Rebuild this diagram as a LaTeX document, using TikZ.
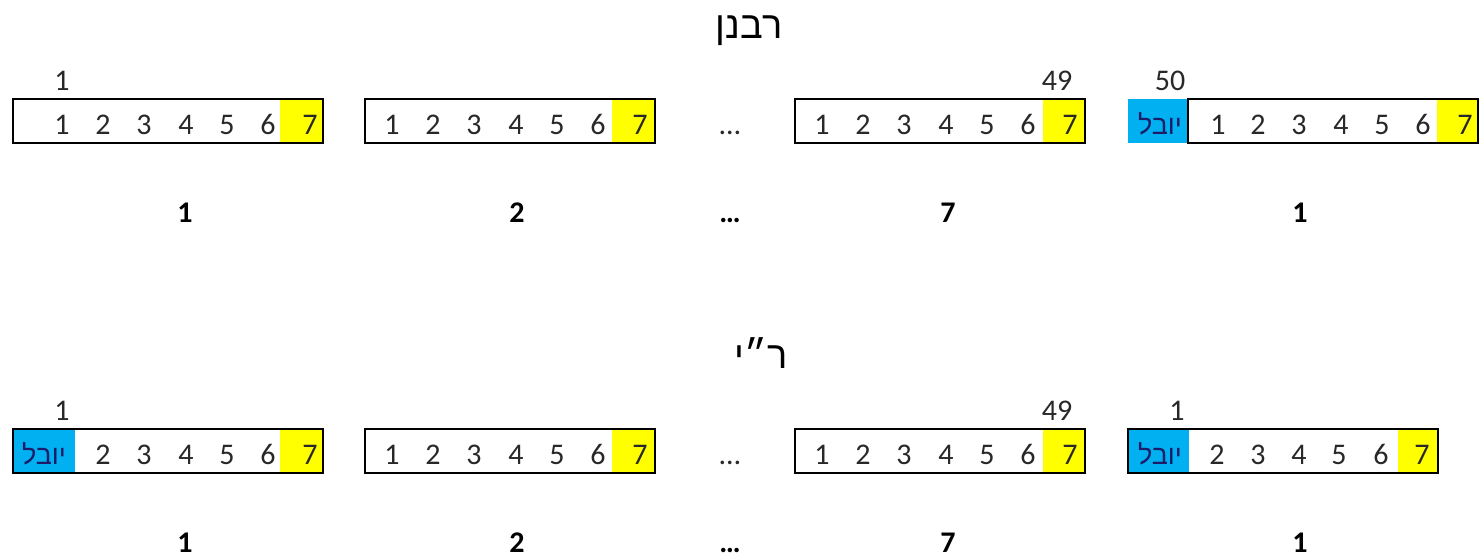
\documentclass[tikz,border=0pt]{standalone}
\usepackage{fontspec}
\setmainfont{Carlito}
\newfontfamily\hebfont[Script=Hebrew]{Liberation Sans}
\TeXXeTstate=1
\definecolor{cellyellow}{RGB}{255,255,0}
\definecolor{cellblue}{RGB}{0,176,240}
\definecolor{txt}{RGB}{40,40,40}
\begin{document}
\begin{tikzpicture}[x=1pt,y=-1pt,
  digit/.style={inner sep=0pt,anchor=base,text=txt,font=\fontsize{30}{30}\selectfont},
  bolddigit/.style={inner sep=0pt,anchor=base,text=black,font=\fontsize{30}{30}\selectfont\bfseries},
  title/.style={inner sep=0pt,anchor=base,text=black,font=\hebfont\fontsize{38}{38}\selectfont},
  yovel/.style={inner sep=0pt,anchor=base,text=txt!70!blue,font=\hebfont\fontsize{27}{27}\selectfont},
  frame/.style={draw=black,line width=1.6pt},
  ycell/.style={fill=cellyellow},
  bcell/.style={fill=cellblue}]
\useasboundingbox (0,0) rectangle (1479,557);

% ---------- titles ----------
\node[title] (t1) at (749,38) {\beginR רבנן\endR};
\node[title] (t2) at (761,368) {\beginR ר״י\endR};

% ---------- row 1 ----------
\foreach \L/\R/\row [count=\i] in {13/323/1,365/655/1,795/1085/1}{}
% box 1
\fill[ycell] (280,99) rectangle (323,143);
\draw[frame] (13,99) rectangle (323,143);
\foreach \d/\x in {1/62,2/103,3/144,4/186,5/227,6/268,7/310}
  \node[digit] (a1\d) at (\x,134) {\d};
\node[digit] (a1top) at (62,90) {1};
% box 2
\fill[ycell] (612,99) rectangle (655,143);
\draw[frame] (365,99) rectangle (655,143);
\foreach \d/\x in {1/392,2/433,3/474,4/516,5/557,6/598,7/640}
  \node[digit] (a2\d) at (\x,134) {\d};
% dots
\node[digit] (adots) at (730,134) {\dots};
% box 3
\fill[ycell] (1043,99) rectangle (1085,143);
\draw[frame] (795,99) rectangle (1085,143);
\foreach \d/\x in {1/822,2/863,3/904,4/946,5/987,6/1028,7/1070}
  \node[digit] (a3\d) at (\x,134) {\d};
\node[digit] (a3top) at (1057,90) {49};
% box 4
\fill[bcell] (1128,99) rectangle (1188,143);
\node[yovel] (a4y) at (1160,134) {\beginR יובל\endR};
\fill[ycell] (1437,99) rectangle (1478,143);
\draw[frame] (1188,99) rectangle (1478,143);
\foreach \d/\x in {1/1218,2/1258,3/1299,4/1341,5/1382,6/1423,7/1465}
  \node[digit] (a4\d) at (\x,134) {\d};
\node[digit] (a4top) at (1170,90) {50};
% bold labels
\node[bolddigit] (al1) at (185,222) {1};
\node[bolddigit] (al2) at (517,222) {2};
\node[bolddigit] (al3) at (730,222) {\dots};
\node[bolddigit] (al4) at (948,222) {7};
\node[bolddigit] (al5) at (1300,222) {1};

% ---------- row 2 ----------
% box 1
\fill[bcell] (13,429) rectangle (75,473);
\node[yovel] (b1y) at (44,464) {\beginR יובל\endR};
\fill[ycell] (280,429) rectangle (323,473);
\draw[frame] (13,429) rectangle (323,473);
\foreach \d/\x in {2/103,3/144,4/186,5/227,6/268,7/310}
  \node[digit] (b1\d) at (\x,464) {\d};
\node[digit] (b1top) at (62,420) {1};
% box 2
\fill[ycell] (612,429) rectangle (655,473);
\draw[frame] (365,429) rectangle (655,473);
\foreach \d/\x in {1/392,2/433,3/474,4/516,5/557,6/598,7/640}
  \node[digit] (b2\d) at (\x,464) {\d};
\node[digit] (bdots) at (730,464) {\dots};
% box 3
\fill[ycell] (1043,429) rectangle (1085,473);
\draw[frame] (795,429) rectangle (1085,473);
\foreach \d/\x in {1/822,2/863,3/904,4/946,5/987,6/1028,7/1070}
  \node[digit] (b3\d) at (\x,464) {\d};
\node[digit] (b3top) at (1057,420) {49};
% box 4
\fill[bcell] (1128,429) rectangle (1189,473);
\node[yovel] (b4y) at (1160,464) {\beginR יובל\endR};
\fill[ycell] (1398,429) rectangle (1438,473);
\draw[frame] (1128,429) rectangle (1438,473);
\foreach \d/\x in {2/1217,3/1258,4/1299,5/1339,6/1381,7/1422}
  \node[digit] (b4\d) at (\x,464) {\d};
\node[digit] (b4top) at (1177,420) {1};
% bold labels
\node[bolddigit] (bl1) at (185,552) {1};
\node[bolddigit] (bl2) at (517,552) {2};
\node[bolddigit] (bl3) at (730,552) {\dots};
\node[bolddigit] (bl4) at (948,552) {7};
\node[bolddigit] (bl5) at (1300,552) {1};
\end{tikzpicture}
\end{document}
